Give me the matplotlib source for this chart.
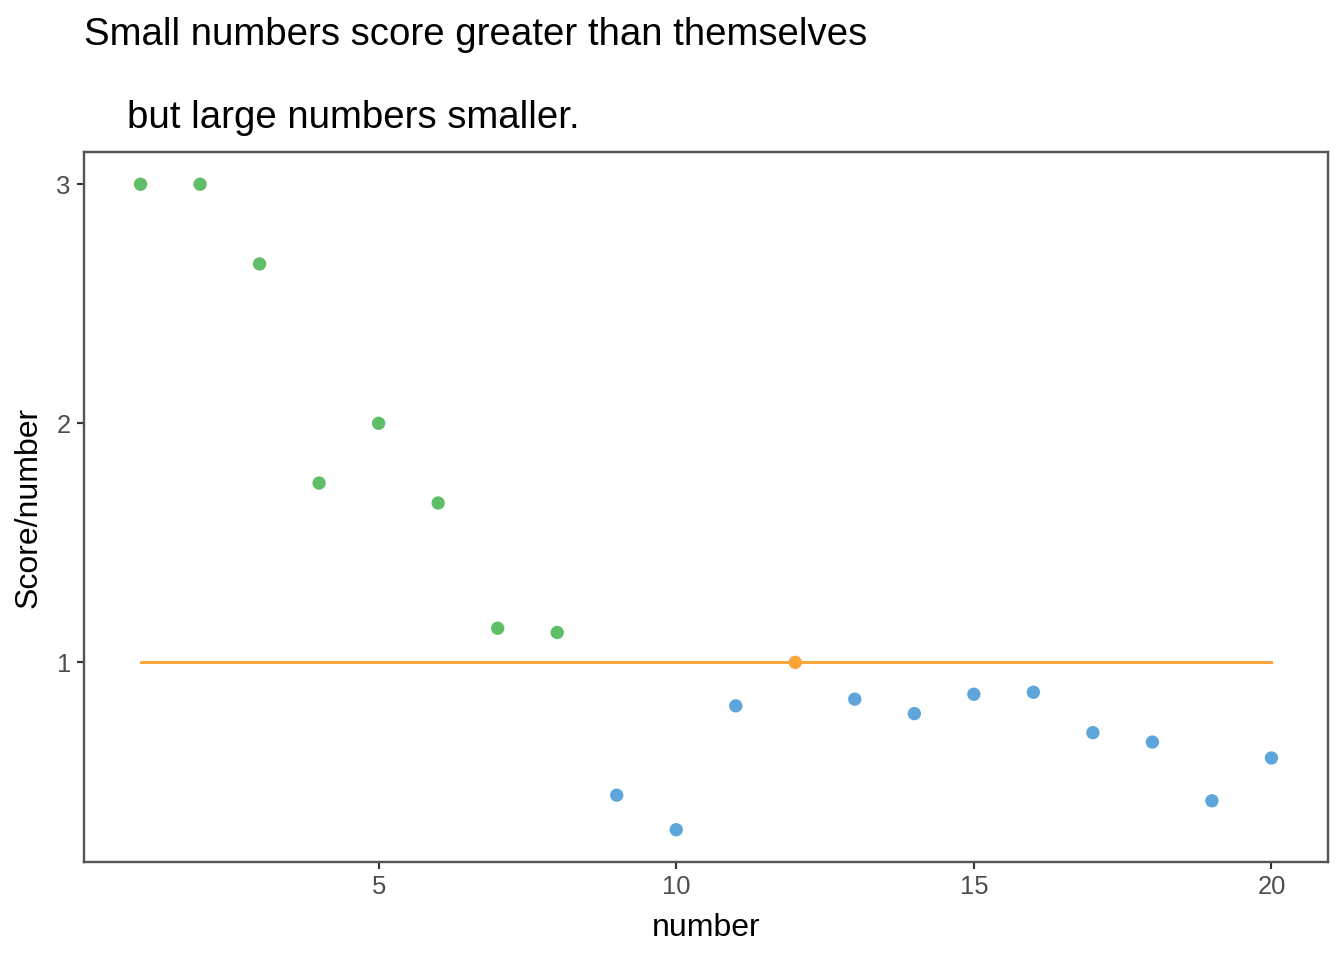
import numpy as np
import matplotlib.pyplot as plt

plt.rcParams['font.family'] = ['Liberation Sans', 'DejaVu Sans']

# score / number for each number on the board
number = np.arange(1, 21)
ratio = [3, 3, 8/3, 7/4, 2, 10/6, 8/7, 9/8, 4/9, 3/10,
         9/11, 1, 11/13, 11/14, 13/15, 14/16, 12/17, 12/18, 8/19, 12/20]
group = ["greater"] * 8 + ["smaller"] * 3 + ["equal"] + ["smaller"] * 8

colours = {"greater": "#60BD68", "equal": "#FAA43A", "smaller": "#5DA5DA"}

fig = plt.figure(figsize=(7, 5), dpi=192)
ax = fig.add_axes([0.0625, 0.1021, 0.9256, 0.7396])

ax.plot([1, 20], [1, 1], color="#FAA43A", lw=1.1, zorder=1)
ax.scatter(number, ratio, c=[colours[g] for g in group], s=25,
           linewidths=0, zorder=2)

ax.set_xlim(0.05, 20.95)
ax.set_ylim(0.165, 3.135)
ax.set_xticks([5, 10, 15, 20])
ax.set_yticks([1, 2, 3])
ax.tick_params(length=2.75, width=0.8, color="#333333",
               labelsize=9.6, labelcolor="#4D4D4D", pad=2.2)
for s in ax.spines.values():
    s.set_color("#555555")
    s.set_linewidth(0.9)

ax.set_xlabel("number", fontsize=12, labelpad=5)
ax.set_ylabel("Score/number", fontsize=12, labelpad=5)

fig.text(0.0625, 0.982, "Small numbers score greater than themselves",
         fontsize=14.4, va="top", ha="left")
fig.text(0.0945, 0.896, "but large numbers smaller.",
         fontsize=14.4, va="top", ha="left")

fig.savefig("out.png", dpi=192)
